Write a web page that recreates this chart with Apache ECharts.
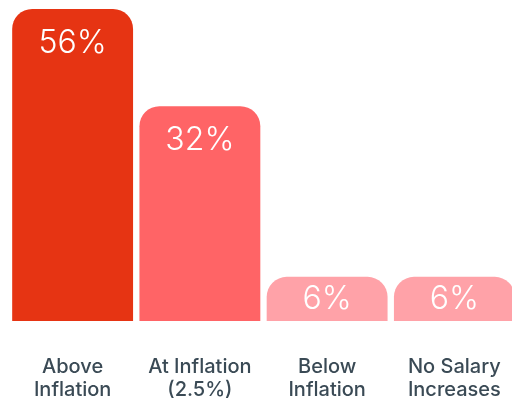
<!DOCTYPE html>
<html><head><meta charset="utf-8">
<script src="https://cdn.jsdelivr.net/npm/echarts@6/dist/echarts.min.js"></script>
<style>html,body{margin:0;padding:0;background:#fff}#c{width:512px;height:401px}</style>
</head><body><div id="c"></div>
<script>
var categories = ['Above\nInflation', 'At Inflation\n(2.5%)', 'Below\nInflation', 'No Salary\nIncreases'];
var values = [56, 32, 6, 6];
var colors = ['#E63413', '#FF6466', '#FFA2A8', '#FFA2A8'];

// bars drawn on a square-root scale (as in the reference)
var seriesData = values.map(function (v, i) {
  var short = v < 10;
  return {
    value: Math.sqrt(v),
    raw: v,
    itemStyle: { color: colors[i] },
    label: short ? { position: 'inside' } : { position: 'insideTop', distance: 18 }
  };
});

var chart = echarts.init(document.getElementById('c'), null, { renderer: 'canvas' });
chart.setOption({
  animation: false,
  grid: { left: 9, width: 509, top: 9, bottom: 80, containLabel: false, outerBoundsMode: 'none' },
  xAxis: {
    type: 'category',
    data: categories,
    axisLine: { show: false },
    axisTick: { show: false },
    axisLabel: {
      interval: 0,
      hideOverlap: false,
      margin: 34,
      fontFamily: 'Inter',
      fontWeight: 500,
      fontSize: 20,
      lineHeight: 23,
      color: '#3A4A55'
    }
  },
  yAxis: {
    type: 'value',
    min: 1.62,
    max: Math.sqrt(56),
    show: false,
    splitLine: { show: false }
  },
  series: [{
    type: 'bar',
    data: seriesData,
    barCategoryGap: '5%',
    itemStyle: { borderRadius: [20, 20, 0, 0] },
    label: {
      show: true,
      fontFamily: 'Inter',
      fontWeight: 300,
      fontSize: 32,
      color: '#ffffff',
      formatter: function (p) { return p.data.raw + '%'; }
    }
  }]
});
</script></body></html>
